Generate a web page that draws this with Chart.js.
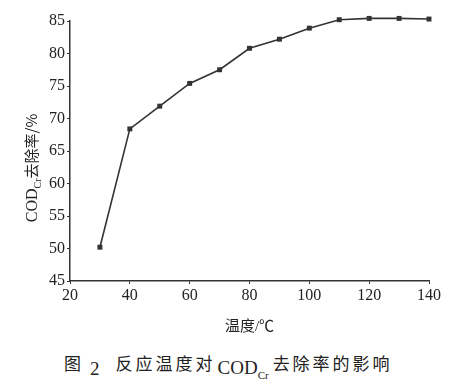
<!DOCTYPE html>
<html>
<head>
<meta charset="utf-8">
<script src="https://cdn.jsdelivr.net/npm/chart.js@4/dist/chart.umd.min.js"></script>
<style>
    html, body { margin: 0; padding: 0; background: #fff; }
    #wrap { position: relative; width: 456px; height: 385px; }
    #chart { position: absolute; left: 0; top: 0; }
    #caption {
        position: absolute; left: 64px; top: 350px; white-space: nowrap;
        font-family: 'Noto Sans CJK SC', sans-serif; font-size: 17px; color: #222;
        letter-spacing: 3px;
    }
    #caption .num, #caption .cod { font-family: 'Liberation Serif', serif; font-size: 19px; letter-spacing: 0; }
    #caption .num { position: relative; top: 5px; margin: 0 16px 0 6px; }
    #caption .cod { position: relative; top: 4px; margin-left: 2px; }
    #caption sub { font-family: 'Liberation Serif', serif; font-size: 11px; letter-spacing: 0; margin-right: 4px; }
</style>
</head>
<body>
<div id="wrap">
    <canvas id="chart" width="456" height="340"></canvas>
    <div id="caption">图<span class="num">2</span>反应温度对<span class="cod">COD<sub>Cr</sub></span>去除率的影响</div>
</div>
<script>
// ---- data ----
const temperatures = [30, 40, 50, 60, 70, 80, 90, 100, 110, 120, 130, 140];
const removalRates = [50.2, 68.4, 71.9, 75.4, 77.5, 80.8, 82.2, 83.9, 85.2, 85.4, 85.4, 85.3];
const xTickValues = [20, 40, 60, 80, 100, 120, 140];
const yTickValues = [45, 50, 55, 60, 65, 70, 75, 80, 85];

const serif = 'Liberation Serif';
const ink = '#333';

// y-axis title with subscript, drawn by hand
const yTitlePlugin = {
    id: 'yTitle',
    afterDraw(chart) {
        const ctx = chart.ctx;
        const parts = [
            { text: 'COD', font: '16px "' + serif + '"', dy: 0 },
            { text: 'Cr', font: '10px "' + serif + '"', dy: 4 },
            { text: '去除率/%', font: '15px "Noto Sans CJK SC"', dy: 0 }
        ];
        ctx.save();
        let total = 0;
        parts.forEach(p => { ctx.font = p.font; p.w = ctx.measureText(p.text).width; total += p.w; });
        ctx.translate(37, 168);
        ctx.rotate(-Math.PI / 2);
        ctx.fillStyle = '#222';
        ctx.textBaseline = 'alphabetic';
        let x = -total / 2;
        parts.forEach(p => {
            ctx.font = p.font;
            ctx.fillText(p.text, x, p.dy);
            x += p.w;
        });
        ctx.restore();
    }
};

new Chart(document.getElementById('chart'), {
    type: 'line',
    data: {
        datasets: [{
            data: temperatures.map((t, i) => ({ x: t, y: removalRates[i] })),
            borderColor: ink,
            borderWidth: 1.6,
            backgroundColor: ink,
            pointStyle: 'rect',
            pointRadius: 3.5,
            pointBorderWidth: 0,
            tension: 0,
            clip: false
        }]
    },
    options: {
        responsive: false,
        animation: false,
        layout: { padding: { left: 0, right: 27, top: 21, bottom: 0 } },
        plugins: {
            legend: { display: false },
            tooltip: { enabled: false }
        },
        scales: {
            x: {
                type: 'linear',
                min: 20,
                max: 140,
                afterBuildTicks: axis => { axis.ticks = xTickValues.map(v => ({ value: v })); },
                afterFit: axis => { axis.height = 59; },
                border: { color: ink, width: 1.5 },
                grid: { display: true, drawOnChartArea: false, color: ink, tickLength: 3 },
                ticks: {
                    color: '#222',
                    padding: 2,
                    maxRotation: 0,
                    font: { family: serif, size: 16 }
                },
                title: {
                    display: true,
                    text: '温度/℃',
                    color: '#222',
                    padding: { top: 0 },
                    font: { family: serif + ', Noto Sans CJK SC', size: 15 }
                }
            },
            y: {
                min: 45,
                max: 85,
                afterBuildTicks: axis => { axis.ticks = yTickValues.map(v => ({ value: v })); },
                afterFit: axis => { axis.width = 70; },
                border: { color: ink, width: 1.5 },
                grid: { display: true, drawOnChartArea: false, color: ink, tickLength: 3 },
                ticks: {
                    color: '#222',
                    padding: 2,
                    font: { family: serif, size: 16 }
                }
            }
        }
    },
    plugins: [yTitlePlugin]
});
</script>
</body>
</html>
